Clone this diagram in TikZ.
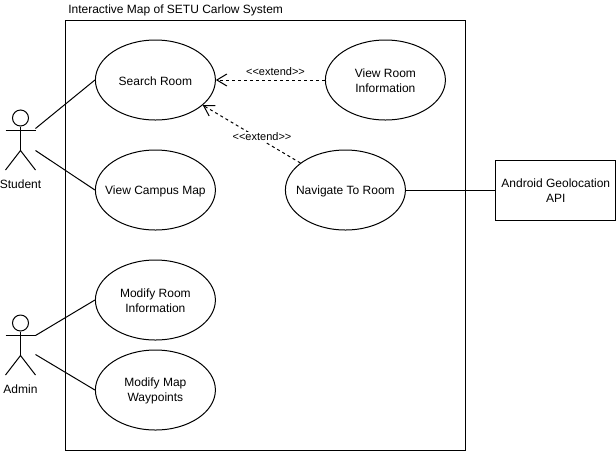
\documentclass[tikz,border=0pt]{standalone}
\usepackage{fontspec}
\setmainfont{Liberation Sans}
\usetikzlibrary{shapes.geometric,arrows.meta}
\definecolor{ink}{RGB}{0,0,0}
\tikzset{
  px/.style={x=0.75pt,y=-0.75pt},
  line/.style={draw=ink,line width=0.75pt},
  ctext/.style={inner sep=0pt,align=center,yshift=-0.75pt,font=\fontsize{9pt}{11.25pt}\selectfont},
  usecase/.style={ellipse,line,fill=white,minimum width=90pt,minimum height=60pt,inner sep=0pt,label={[ctext]center:#1}},
  extbox/.style={rectangle,line,fill=white,minimum width=90pt,minimum height=45pt,inner sep=0pt,label={[ctext]center:#1}},
  sysbox/.style={rectangle,line,minimum width=299.6pt,minimum height=322.5pt,inner sep=0pt},
  txt/.style={inner sep=0pt,font=\fontsize{9pt}{11.25pt}\selectfont},
  extlabel/.style={inner sep=1pt,fill=white,font=\fontsize{8.25pt}{10pt}\selectfont},
  extend/.style={line,dash pattern=on 2.25pt off 2.25pt,-{Straight Barb[length=7.5pt,width=9pt,line width=0.75pt]}},
}
\begin{document}
\begin{tikzpicture}[px]
\useasboundingbox (0,0) rectangle (616,451);
\node[sysbox] (sys) at (265.5,235) {};
\node[txt,anchor=west] (title) at (68,10) {Interactive Map of SETU Carlow System};
\node[usecase={Search Room}] (search) at (155.4,80) {};
\node[usecase={View Campus Map}] (campus) at (155.4,190) {};
\node[usecase={Modify Room\\Information}] (modroom) at (155.4,300) {};
\node[usecase={Modify Map\\Waypoints}] (modway) at (155.4,390) {};
\node[usecase={View Room\\Information}] (info) at (385.4,80) {};
\node[usecase={Navigate To Room}] (nav) at (345.4,190) {};
\node[extbox={Android Geolocation\\API}] (api) at (555.8,190) {};
% Student
\node[circle,line,minimum size=12pt,inner sep=0pt] (shead) at (20.5,118) {};
\coordinate (sarml) at (5.5,130);
\coordinate (sarmr) at (35.5,130);
\coordinate (ship) at (20.5,150.5);
\coordinate (slegl) at (5.5,170);
\coordinate (slegr) at (35.5,170);
\draw[line] (shead.south) -- (ship);
\draw[line] (sarml) -- (sarmr);
\draw[line] (slegl) -- (ship) -- (slegr);
\node[txt] (student) at (20.5,184) {Student};
% Admin
\node[circle,line,minimum size=12pt,inner sep=0pt] (ahead) at (20.5,323) {};
\coordinate (aarml) at (5.5,335);
\coordinate (aarmr) at (35.5,335);
\coordinate (ahip) at (20.5,355.5);
\coordinate (alegl) at (5.5,375);
\coordinate (alegr) at (35.5,375);
\draw[line] (ahead.south) -- (ahip);
\draw[line] (aarml) -- (aarmr);
\draw[line] (alegl) -- (ahip) -- (alegr);
\node[txt] (admin) at (20.5,389) {Admin};
% associations
\coordinate (s1) at (35.5,128.5);
\coordinate (s2) at (35.5,150.5);
\coordinate (a1) at (35.5,335.5);
\coordinate (a2) at (35.5,354.5);
\draw[line] (s1) -- (search.west);
\draw[line] (s2) -- (campus.west);
\draw[line] (a1) -- (modroom.west);
\draw[line] (a2) -- (modway.west);
\draw[line] (nav.east) -- (api.west);
% extends
\draw[extend] (info.west) -- (search.east);
\node[extlabel,fill=none] (l1) at (275.5,72) {{<}{<}extend{>}{>}};
\draw[extend] (nav.149) -- (search.-28.5);
\node[extlabel] (l2) at (262,137) {{<}{<}extend{>}{>}};
\end{tikzpicture}
\end{document}
